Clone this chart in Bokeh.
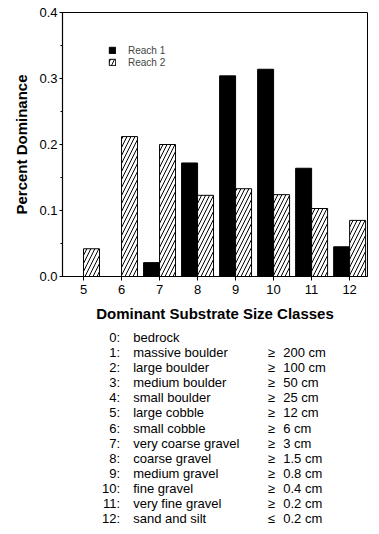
import numpy as np
from bokeh.plotting import figure
from bokeh.models import (Range1d, FixedTicker, SingleIntervalTicker,
                          PrintfTickFormatter, Legend, LegendItem)
from bokeh.layouts import column
from bokeh.core.properties import value
from bokeh.embed import file_html
from bokeh.resources import INLINE

# ---------------- data ----------------
size_classes = [5, 6, 7, 8, 9, 10, 11, 12]
reach1 = [0.0, 0.0, 0.021, 0.172, 0.304, 0.314, 0.164, 0.045]
reach2 = [0.042, 0.212, 0.200, 0.123, 0.133, 0.124, 0.103, 0.085]
series_names = ["Reach 1", "Reach 2"]

class_codes = ["0:", "1:", "2:", "3:", "4:", "5:", "6:", "7:", "8:", "9:",
               "10:", "11:", "12:"]
class_names = ["bedrock", "massive boulder", "large boulder", "medium boulder",
               "small boulder", "large cobble", "small cobble",
               "very coarse gravel", "coarse gravel", "medium gravel",
               "fine gravel", "very fine gravel", "sand and silt"]
size_signs = ["", "\u2265", "\u2265", "\u2265", "\u2265", "\u2265", "\u2265",
              "\u2265", "\u2265", "\u2265", "\u2265", "\u2265", "\u2264"]
size_limits = ["", "200 cm", "100 cm", "50 cm", "25 cm", "12 cm", "6 cm",
               "3 cm", "1.5 cm", "0.8 cm", "0.4 cm", "0.2 cm", "0.2 cm"]

FONT = "Liberation Sans"
BAR_W = 0.42

# ---------------- chart ----------------
p = figure(width=371, height=326, title=None,
           x_range=Range1d(4.447, 12.47), y_range=Range1d(0, 0.4),
           output_backend="svg", toolbar_location=None,
           min_border_left=62, min_border_right=4,
           min_border_top=12, min_border_bottom=50)

xc = np.array(size_classes, dtype=float)
r1 = p.vbar(x=xc - BAR_W / 2, top=reach1, bottom=0, width=BAR_W,
            fill_color="black", line_color="black", line_width=1)
r2 = p.vbar(x=xc + BAR_W / 2, top=reach2, bottom=0, width=BAR_W,
            fill_color="white", line_color="black", line_width=1,
            hatch_pattern="/", hatch_scale=8, hatch_weight=1,
            hatch_color="black")

legend = Legend(items=[LegendItem(label=series_names[0], renderers=[r1]),
                       LegendItem(label=series_names[1], renderers=[r2])],
                location=(46, 208), padding=0, margin=0, spacing=0,
                glyph_width=8, glyph_height=8, label_height=12,
                label_standoff=12, label_text_font_size="10px",
                label_text_font=FONT, border_line_color=None,
                background_fill_alpha=0)
p.add_layout(legend)

p.grid.visible = False
p.outline_line_color = "black"
p.outline_line_width = 1
p.background_fill_color = "white"
p.border_fill_color = "white"

p.xaxis.ticker = FixedTicker(ticks=size_classes)
p.xaxis.major_tick_out = 4
p.xaxis.major_tick_in = 0
p.xaxis.minor_tick_out = 0
p.xaxis.minor_tick_in = 0
p.xaxis.major_label_standoff = 4
p.xaxis.axis_label = "Dominant Substrate Size Classes"
p.xaxis.axis_label_standoff = 8

p.yaxis.ticker = SingleIntervalTicker(interval=0.1, num_minor_ticks=2)
p.yaxis.formatter = PrintfTickFormatter(format="%.1f")
p.yaxis.major_tick_out = 3
p.yaxis.major_tick_in = 0
p.yaxis.minor_tick_out = 2
p.yaxis.minor_tick_in = 0
p.yaxis.major_label_standoff = 2
p.yaxis.axis_label = "Percent Dominance"
p.yaxis.axis_label_standoff = 6

for ax in (p.xaxis, p.yaxis):
    ax.axis_line_color = "black"
    ax.axis_line_width = 1.2
    ax.major_tick_line_color = "black"
    ax.minor_tick_line_color = "black"
    ax.major_label_text_font = FONT
    ax.major_label_text_font_size = "13px"
    ax.major_label_text_color = "black"
    ax.axis_label_text_font = FONT
    ax.axis_label_text_font_size = "15px"
    ax.axis_label_text_font_style = "bold"
    ax.axis_label_text_color = "black"

# ---------------- class table ----------------
n = len(class_codes)
rows = np.arange(n)
# frame of this figure is aligned with the chart frame (page x 62..367)
t = figure(width=371, height=200, title=None,
           x_range=Range1d(62, 367), y_range=Range1d(12.53, -0.729),
           output_backend="svg", toolbar_location=None,
           x_axis_location=None, y_axis_location=None,
           min_border_left=62, min_border_right=4,
           min_border_top=0, min_border_bottom=0)
t.grid.visible = False
t.outline_line_color = None

common = dict(text_baseline="middle", text_font=value(FONT),
              text_font_size="13px", text_color="black")
t.text(x=[119.5] * n, y=rows, text=class_codes, text_align="right", **common)
t.text(x=[132.7] * n, y=rows, text=class_names, text_align="left", **common)
t.text(x=[267.3] * n, y=rows, text=size_signs, text_align="left", **common)
t.text(x=[282.7] * n, y=rows, text=size_limits, text_align="left", **common)

layout = column(p, t, spacing=0)
open("out.html", "w").write(file_html(layout, INLINE))
